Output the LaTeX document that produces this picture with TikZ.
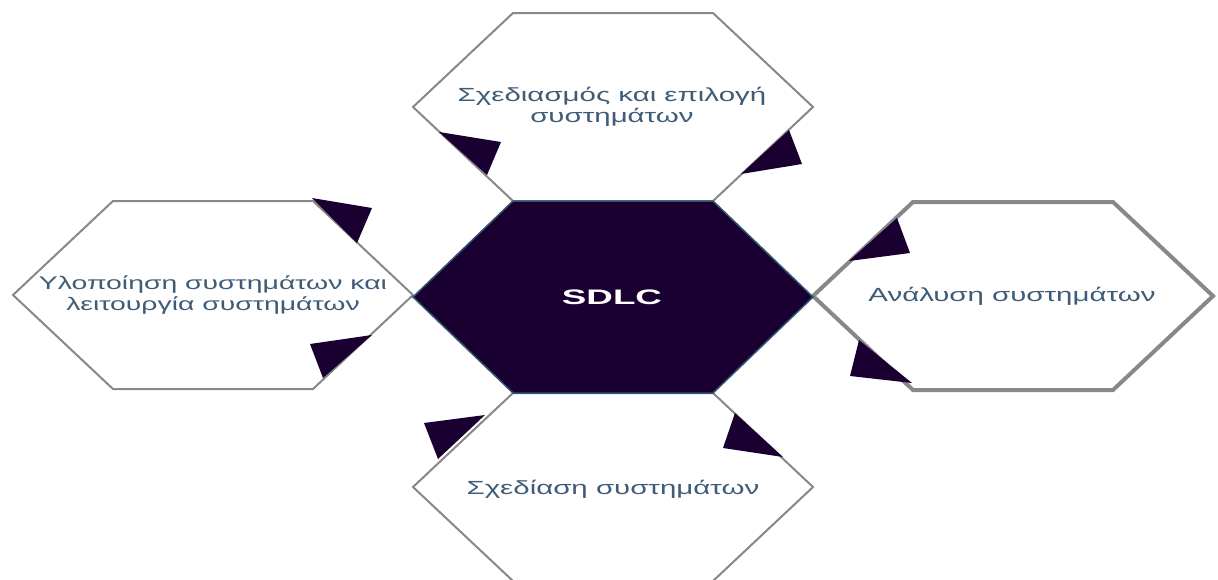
\documentclass[tikz,border=0pt]{standalone}
\usepackage{fontspec}
\usepackage{tikz}
\usepackage{xcolor}
\newfontfamily\labelfont[FakeStretch=1.55]{Liberation Sans}
\newfontfamily\corefont[FakeStretch=1.75]{Liberation Sans}
\definecolor{hexnavy}{HTML}{1A0030}
\definecolor{hexedge}{HTML}{2E5570}
\definecolor{hexgray}{HTML}{888888}
\definecolor{lbltext}{HTML}{3E5C78}
\tikzset{
    outer-hex/.style = {draw=hexgray, fill=white, line width=2pt},
    core-hex/.style = {draw=hexedge, fill=hexnavy, line width=1.5pt},
    cycle-arrow/.style = {fill=hexnavy},
    step-label/.style = {text=lbltext, font=\labelfont\fontsize{19}{21}\selectfont, align=center, inner sep=0pt},
    core-label/.style = {text=white, font=\corefont\bfseries\fontsize{21}{24}\selectfont, inner sep=0pt},
}

\begin{document}
\begin{tikzpicture}[x=1pt, y=-1pt]
\useasboundingbox (0,0) rectangle (1218,579);
\clip (0,0) rectangle (1218,579);
% outer hexagons
\draw[outer-hex] (413,107) -- (513,13) -- (713,13) -- (813,107) -- (713,201) -- (513,201) -- cycle;
\draw[outer-hex] (13,295) -- (113,201) -- (313,201) -- (413,295) -- (313,389) -- (113,389) -- cycle;
\draw[outer-hex, line width=4pt] (813,296) -- (913,202) -- (1113,202) -- (1213,296) -- (1113,390) -- (913,390) -- cycle;
\draw[outer-hex] (413,487) -- (513,393) -- (713,393) -- (813,487) -- (713,581) -- (513,581) -- cycle;
% centre
\draw[core-hex] (413,297) -- (513,201) -- (713,201) -- (813,297) -- (713,393) -- (513,393) -- cycle;
% arrow heads of the cycle
\fill[cycle-arrow] (439,132) -- (501,142) -- (487,175) -- cycle;
\fill[cycle-arrow] (789,130) -- (802,164) -- (741,174) -- cycle;
\fill[cycle-arrow] (897,218) -- (910,253) -- (849,261) -- cycle;
\fill[cycle-arrow] (859,340) -- (912,383) -- (850,376) -- cycle;
\fill[cycle-arrow] (735,413) -- (783,457) -- (723,448) -- cycle;
\fill[cycle-arrow] (424,423) -- (485,415) -- (438,459) -- cycle;
\fill[cycle-arrow] (310,344) -- (372,335) -- (323,378) -- cycle;
\fill[cycle-arrow] (312,198) -- (372,208) -- (357,243) -- cycle;
% labels
\node[core-label] (sdlc) at (612,297) {SDLC};
\node[step-label] (design) at (612,107) {Σχεδιασμός και επιλογή\\συστημάτων};
\node[step-label] (analysis) at (1012,296) {Ανάλυση συστημάτων};
\node[step-label] (sysdesign) at (613,489) {Σχεδίαση συστημάτων};
\node[step-label, font=\labelfont\fontsize{18.3}{20.5}\selectfont] (implement) at (213,295) {Υλοποίηση συστημάτων και\\λειτουργία συστημάτων};
\end{tikzpicture}
\end{document}
